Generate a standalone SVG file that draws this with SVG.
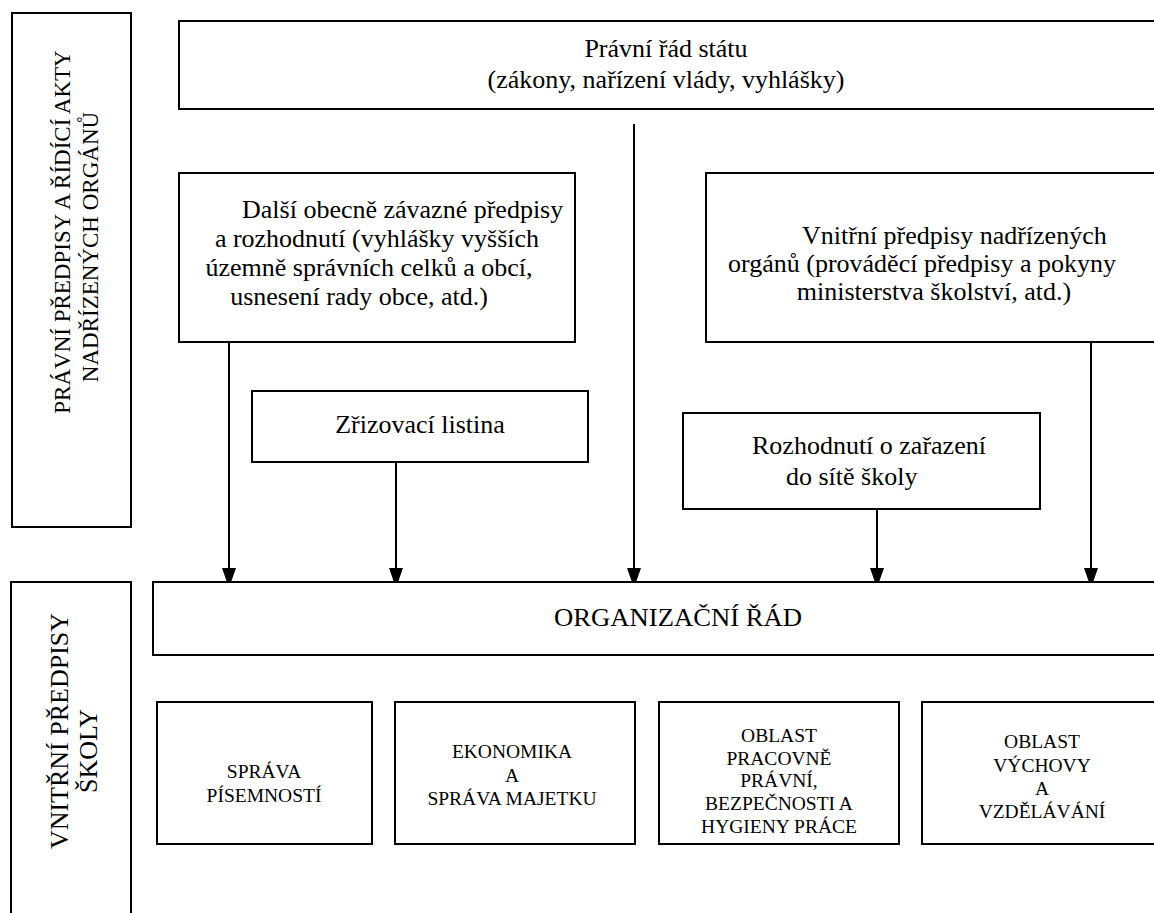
<svg xmlns="http://www.w3.org/2000/svg" width="1154" height="913" viewBox="0 0 1154 913">
<defs>
<marker id="ah" viewBox="0 0 14 20" refX="14" refY="7" markerWidth="14" markerHeight="20" markerUnits="userSpaceOnUse" orient="auto">
<path d="M0,0 L20,7 L0,14 Z" fill="#000"/>
</marker>
</defs>
<rect width="1154" height="913" fill="#fff"/>
<g id="side-top">
<rect x="12" y="13" width="119" height="514" fill="#fff" stroke="#000" stroke-width="2"/>
<text font-family="Liberation Serif" font-size="23" text-anchor="middle" transform="translate(70,232) rotate(-90)">PRÁVNÍ PŘEDPISY A ŘÍDÍCÍ AKTY</text>
<text font-family="Liberation Serif" font-size="23" text-anchor="middle" transform="translate(98,247) rotate(-90)">NADŘÍZENÝCH ORGÁNŮ</text>
</g>

<g id="side-bottom">
<rect x="11" y="582" width="120" height="340" fill="#fff" stroke="#000" stroke-width="2"/>
<text font-family="Liberation Serif" font-size="26" text-anchor="middle" transform="translate(68,731) rotate(-90)">VNITŘNÍ PŘEDPISY</text>
<text font-family="Liberation Serif" font-size="26" text-anchor="middle" transform="translate(97,751) rotate(-90)">ŠKOLY</text>
</g>

<g id="pravni-rad">
<rect x="179" y="21" width="985" height="88" fill="#fff" stroke="#000" stroke-width="2"/>
<text font-family="Liberation Serif" font-size="26" text-anchor="middle" x="666" y="57">Právní řád státu</text>
<text font-family="Liberation Serif" font-size="26" text-anchor="middle" x="666" y="88">(zákony, nařízení vlády, vyhlášky)</text>
</g>

<g id="dalsi">
<rect x="179" y="173" width="396" height="169" fill="#fff" stroke="#000" stroke-width="2"/>
<text font-family="Liberation Serif" font-size="26" x="242" y="218">Další obecně závazné předpisy</text>
<text font-family="Liberation Serif" font-size="26" text-anchor="middle" x="377" y="247">a rozhodnutí (vyhlášky vyšších</text>
<text font-family="Liberation Serif" font-size="26" text-anchor="middle" x="369" y="276">územně správních celků a obcí,</text>
<text font-family="Liberation Serif" font-size="26" text-anchor="middle" x="359" y="305">usnesení rady obce, atd.)</text>
</g>

<g id="vnitrni-nadrizenych">
<rect x="706" y="173" width="460" height="169" fill="#fff" stroke="#000" stroke-width="2"/>
<text font-family="Liberation Serif" font-size="26" x="802" y="244">Vnitřní předpisy nadřízených</text>
<text font-family="Liberation Serif" font-size="26" text-anchor="middle" x="922" y="272">orgánů (prováděcí předpisy a pokyny</text>
<text font-family="Liberation Serif" font-size="26" text-anchor="middle" x="934" y="300">ministerstva školství, atd.)</text>
</g>

<g id="zrizovaci">
<rect x="252" y="391" width="336" height="71" fill="#fff" stroke="#000" stroke-width="2"/>
<text font-family="Liberation Serif" font-size="26" text-anchor="middle" x="420" y="433">Zřizovací listina</text>
</g>

<g id="rozhodnuti">
<rect x="683" y="413" width="357" height="96" fill="#fff" stroke="#000" stroke-width="2"/>
<text font-family="Liberation Serif" font-size="26" x="752" y="454">Rozhodnutí o zařazení</text>
<text font-family="Liberation Serif" font-size="26" x="786" y="485">do sítě školy</text>
</g>

<g id="connectors" stroke="#000" stroke-width="2" fill="none">
<line x1="229" y1="342" x2="229" y2="582" marker-end="url(#ah)"/>
<line x1="396" y1="462" x2="396" y2="582" marker-end="url(#ah)"/>
<line x1="634" y1="124" x2="634" y2="582" marker-end="url(#ah)"/>
<line x1="877" y1="509" x2="877" y2="582" marker-end="url(#ah)"/>
<line x1="1091" y1="342" x2="1091" y2="582" marker-end="url(#ah)"/>
</g>

<g id="organizacni-rad">
<rect x="153" y="582" width="1011" height="73" fill="#fff" stroke="#000" stroke-width="2"/>
<text font-family="Liberation Serif" font-size="26" text-anchor="middle" x="678" y="626" textLength="248" lengthAdjust="spacingAndGlyphs">ORGANIZAČNÍ ŘÁD</text>
</g>

<g id="sprava-pisemnosti">
<rect x="157" y="702" width="215" height="142" fill="#fff" stroke="#000" stroke-width="2"/>
<text font-family="Liberation Serif" font-size="19.5" text-anchor="middle" x="264" y="778">SPRÁVA</text>
<text font-family="Liberation Serif" font-size="19.5" text-anchor="middle" x="264" y="802">PÍSEMNOSTÍ</text>
</g>

<g id="ekonomika">
<rect x="395" y="702" width="240" height="142" fill="#fff" stroke="#000" stroke-width="2"/>
<text font-family="Liberation Serif" font-size="19.5" text-anchor="middle" x="512" y="758">EKONOMIKA</text>
<text font-family="Liberation Serif" font-size="19.5" text-anchor="middle" x="512" y="782">A</text>
<text font-family="Liberation Serif" font-size="19.5" text-anchor="middle" x="512" y="805">SPRÁVA MAJETKU</text>
</g>

<g id="pracovne-pravni">
<rect x="659" y="702" width="240" height="142" fill="#fff" stroke="#000" stroke-width="2"/>
<text font-family="Liberation Serif" font-size="19.5" text-anchor="middle" x="779" y="742">OBLAST</text>
<text font-family="Liberation Serif" font-size="19.5" text-anchor="middle" x="779" y="765">PRACOVNĚ</text>
<text font-family="Liberation Serif" font-size="19.5" text-anchor="middle" x="779" y="787">PRÁVNÍ,</text>
<text font-family="Liberation Serif" font-size="19.5" text-anchor="middle" x="779" y="810">BEZPEČNOSTI A</text>
<text font-family="Liberation Serif" font-size="19.5" text-anchor="middle" x="779" y="833">HYGIENY PRÁCE</text>
</g>

<g id="vychova">
<rect x="922" y="702" width="242" height="142" fill="#fff" stroke="#000" stroke-width="2"/>
<text font-family="Liberation Serif" font-size="19.5" text-anchor="middle" x="1042" y="748">OBLAST</text>
<text font-family="Liberation Serif" font-size="19.5" text-anchor="middle" x="1042" y="772">VÝCHOVY</text>
<text font-family="Liberation Serif" font-size="19.5" text-anchor="middle" x="1042" y="795">A</text>
<text font-family="Liberation Serif" font-size="19.5" text-anchor="middle" x="1042" y="818">VZDĚLÁVÁNÍ</text>
</g>
</svg>
